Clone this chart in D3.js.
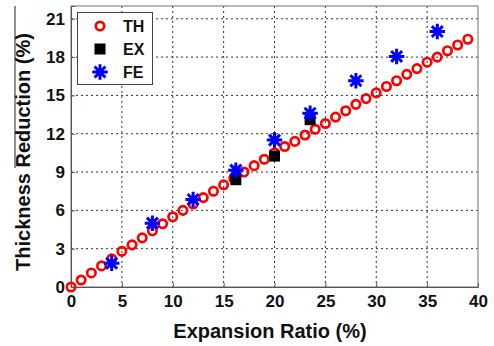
<!DOCTYPE html>
<html>
<head>
<meta charset="utf-8">
<script src="https://cdn.jsdelivr.net/npm/d3@7"></script>
<style>
  html, body { margin: 0; padding: 0; background: #fff; }
  svg { display: block; }
  text { font-family: "Liberation Sans", Arial, sans-serif; font-weight: bold; fill: #111; }
</style>
</head>
<body>
<svg id="chart" width="494" height="346"></svg>
<script>
// Theoretical thickness reduction vs expansion ratio
const thX = [0,1,2,3,4,5,6,7,8,9,10,11,12,13,14,15,16,17,18,19,20,21,22,23,24,25,26,27,28,29,30,31,32,33,34,35,36,37,38,39];
const thY = [0,0.55,1.1,1.65,2.2,2.8,3.3,3.85,4.4,4.95,5.5,6.0,6.5,7.0,7.5,8.0,8.5,9.0,9.5,10.0,10.5,11.0,11.4,11.9,12.35,12.8,13.3,13.8,14.3,14.75,15.2,15.7,16.15,16.65,17.1,17.6,18.0,18.5,18.95,19.4];
// Experimental measurements
const exX = [16.2, 20, 23.5];
const exY = [8.4, 10.25, 13.1];
// Finite element results
const feX = [4, 8, 12, 16.2, 20, 23.5, 28, 32, 36];
const feY = [1.86, 5.0, 6.85, 9.15, 11.5, 13.6, 16.15, 18.05, 20.0];

const xTicks = [0, 5, 10, 15, 20, 25, 30, 35, 40];
const yTicks = [0, 3, 6, 9, 12, 15, 18, 21];
const legendLabels = ["TH", "EX", "FE"];

const svg = d3.select("#chart");
const L = 71, R = 478, T = 6, B = 287;

const x = d3.scaleLinear().domain([0, 40]).range([L, R]);
const y = d3.scaleLinear().domain([0, 22]).range([B, T]);

// stray rule at far left
svg.append("line").attr("x1", 15).attr("x2", 15).attr("y1", 6).attr("y2", 168)
  .attr("stroke", "#222").attr("stroke-width", 1);

// grid
const grid = svg.append("g");
grid.selectAll(".gx").data(xTicks.filter(d => d > 0 && d < 40)).join("line")
  .attr("x1", d => x(d)).attr("x2", d => x(d)).attr("y1", T).attr("y2", B)
  .attr("stroke", "#333").attr("stroke-width", 1).attr("stroke-dasharray", "2,3");
grid.selectAll(".gy").data(yTicks.filter(d => d > 0)).join("line")
  .attr("x1", L).attr("x2", R).attr("y1", d => y(d)).attr("y2", d => y(d))
  .attr("stroke", "#333").attr("stroke-width", 1).attr("stroke-dasharray", "2,3");

// frame
svg.append("rect").attr("x", L).attr("y", T).attr("width", R - L).attr("height", B - T)
  .attr("fill", "none").attr("stroke", "#888").attr("stroke-width", 1.2);

// axes
const xAxis = d3.axisBottom(x).tickValues(xTicks).tickSize(-4).tickPadding(8).tickFormat(d3.format("d"));
const gx = svg.append("g").attr("transform", `translate(0,${B})`).call(xAxis);
gx.select(".domain").attr("stroke", "#555");
gx.selectAll(".tick line").attr("stroke", "#555");
gx.selectAll("text").style("font-size", "17px").attr("fill", "#111");

const yAxis = d3.axisLeft(y).tickValues(yTicks).tickSize(-4).tickPadding(6).tickFormat(d3.format("d"));
const gy = svg.append("g").attr("transform", `translate(${L},0)`).call(yAxis);
gy.select(".domain").attr("stroke", "#555");
gy.selectAll(".tick line").attr("stroke", "#555");
gy.selectAll("text").style("font-size", "17px").attr("fill", "#111");

// axis titles
svg.append("text").attr("x", 270).attr("y", 338).attr("text-anchor", "middle")
  .style("font-size", "20px").text("Expansion Ratio (%)");
svg.append("text").attr("transform", "translate(30,152) rotate(-90)").attr("text-anchor", "middle")
  .style("font-size", "20px").text("Thickness Reduction (%)");

// eight-spoke asterisk marker
const asterisk = {
  draw(ctx, size) {
    const r = Math.sqrt(size) / 2;
    const d = r * Math.SQRT1_2;
    ctx.moveTo(-r, 0); ctx.lineTo(r, 0);
    ctx.moveTo(0, -r); ctx.lineTo(0, r);
    ctx.moveTo(-d, -d); ctx.lineTo(d, d);
    ctx.moveTo(-d, d); ctx.lineTo(d, -d);
  }
};

const th = thX.map((v, i) => [v, thY[i]]);
const ex = exX.map((v, i) => [v, exY[i]]);
const fe = feX.map((v, i) => [v, feY[i]]);

svg.append("g").selectAll("circle").data(th).join("circle")
  .attr("cx", d => x(d[0])).attr("cy", d => y(d[1])).attr("r", 4.2)
  .attr("fill", "none").attr("stroke", "#ff0000").attr("stroke-width", 2.7);

svg.append("g").selectAll("rect").data(ex).join("rect")
  .attr("x", d => x(d[0]) - 5.5).attr("y", d => y(d[1]) - 5.5)
  .attr("width", 11).attr("height", 11).attr("fill", "#000");

svg.append("g").selectAll("path").data(fe).join("path")
  .attr("transform", d => `translate(${x(d[0])},${y(d[1])})`)
  .attr("d", d3.symbol().type(asterisk).size(240))
  .attr("fill", "none").attr("stroke", "#0000ff").attr("stroke-width", 3);

// legend
const lg = svg.append("g");
lg.append("rect").attr("x", 77.5).attr("y", 12.5).attr("width", 75).attr("height", 72)
  .attr("fill", "#fff").attr("stroke", "#444").attr("stroke-width", 1);
const rowsY = [26, 49, 72];
lg.append("circle").attr("cx", 100).attr("cy", rowsY[0]).attr("r", 4.2)
  .attr("fill", "none").attr("stroke", "#ff0000").attr("stroke-width", 2.7);
lg.append("rect").attr("x", 100 - 5.5).attr("y", rowsY[1] - 5.5).attr("width", 11).attr("height", 11).attr("fill", "#000");
lg.append("path").attr("transform", `translate(100,${rowsY[2]})`)
  .attr("d", d3.symbol().type(asterisk).size(240))
  .attr("fill", "none").attr("stroke", "#0000ff").attr("stroke-width", 3);
lg.selectAll("text.lab").data(legendLabels).join("text")
  .attr("x", 123).attr("y", (d, i) => rowsY[i] + 6)
  .style("font-size", "16px").text(d => d);
</script>
</body>
</html>
